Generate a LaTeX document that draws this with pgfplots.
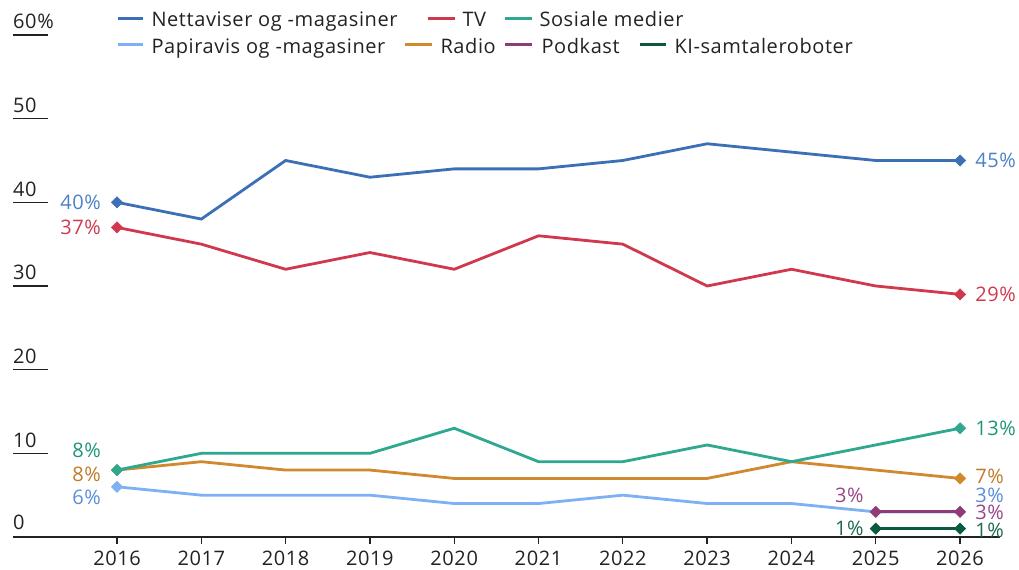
\documentclass[border=0pt]{standalone}
\usepackage{pgfplots}
\pgfplotsset{compat=1.18}
\usepackage{fontspec}
\setmainfont{Open Sans}[LetterSpace=3]
\definecolor{netta}{HTML}{3B6FB6}
\definecolor{tv}{HTML}{D0384E}
\definecolor{sos}{HTML}{2EA88E}
\definecolor{papir}{HTML}{7EB0F4}
\definecolor{radio}{HTML}{D0892F}
\definecolor{pod}{HTML}{8E3B78}
\definecolor{ki}{HTML}{0B5A3E}
\definecolor{nettaL}{HTML}{4C80C8}
\definecolor{papirL}{HTML}{5B8DD8}
\definecolor{sosL}{HTML}{1F9578}
\definecolor{radioL}{HTML}{C07B28}
\definecolor{podL}{HTML}{9A4686}
\definecolor{kiL}{HTML}{1D6A4E}
\definecolor{ink}{HTML}{222222}
\begin{document}
\fontsize{20bp}{24bp}\selectfont
\begin{tikzpicture}[x=1bp,y=1bp]
\useasboundingbox (-13,-33) rectangle (1006,537);
\begin{axis}[
  at={(0,0)}, anchor=south west,
  scale only axis, width=987bp, height=502bp,
  xmin=2014.766, xmax=2026.474, ymin=0, ymax=60,
  clip=false,
  axis x line*=bottom, axis y line=none,
  x axis line style={ink, line width=1.6bp},
  xtick={2016,2017,...,2026},
  tick align=outside, major tick length=7bp,
  xtick style={ink, line width=1.3bp},
  xticklabel style={text=ink, /pgf/number format/1000 sep={}, /pgf/number format/assume math mode=true, yshift=0bp},
  ytick=\empty,
  every axis plot/.append style={line width=2.8bp, mark=square*, mark options={solid, rotate=45, line width=0.5bp, scale=1}, mark size=4bp},
]
\addplot[netta, mark indices={1,11}] coordinates {(2016,40)(2017,38)(2018,45)(2019,43)(2020,44)(2021,44)(2022,45)(2023,47)(2024,46)(2025,45)(2026,45)};
\addplot[tv, mark indices={1,11}] coordinates {(2016,37)(2017,35)(2018,32)(2019,34)(2020,32)(2021,36)(2022,35)(2023,30)(2024,32)(2025,30)(2026,29)};
\addplot[papir, mark indices={1}] coordinates {(2016,6)(2017,5)(2018,5)(2019,5)(2020,4)(2021,4)(2022,5)(2023,4)(2024,4)(2025,3)(2026,3)};
\addplot[radio, mark indices={1,11}] coordinates {(2016,8)(2017,9)(2018,8)(2019,8)(2020,7)(2021,7)(2022,7)(2023,7)(2024,9)(2025,8)(2026,7)};
\addplot[sos, mark indices={1,11}] coordinates {(2016,8)(2017,10)(2018,10)(2019,10)(2020,13)(2021,9)(2022,9)(2023,11)(2024,9)(2025,11)(2026,13)};
\addplot[pod] coordinates {(2025,3)(2026,3)};
\addplot[ki] coordinates {(2025,1)(2026,1)};
% labels left
\node[anchor=east, inner sep=0, xshift=-16bp, text=nettaL] at (axis cs:2016,40) {40\%};
\node[anchor=east, inner sep=0, xshift=-16bp, text=tv] at (axis cs:2016,37) {37\%};
\node[anchor=east, inner sep=0, xshift=-16bp, yshift=20bp, text=sosL] at (axis cs:2016,8) {8\%};
\node[anchor=east, inner sep=0, xshift=-16bp, yshift=-4bp, text=radioL] at (axis cs:2016,8) {8\%};
\node[anchor=east, inner sep=0, xshift=-16bp, yshift=-11bp, text=papirL] at (axis cs:2016,6) {6\%};
% labels right
\node[anchor=west, inner sep=0, xshift=15bp, text=nettaL] at (axis cs:2026,45) {45\%};
\node[anchor=west, inner sep=0, xshift=15bp, text=tv] at (axis cs:2026,29) {29\%};
\node[anchor=west, inner sep=0, xshift=15bp, text=sosL] at (axis cs:2026,13) {13\%};
\node[anchor=west, inner sep=0, xshift=15bp, yshift=2bp, text=radioL] at (axis cs:2026,7) {7\%};
\node[anchor=west, inner sep=0, xshift=15bp, yshift=17bp, text=papirL] at (axis cs:2026,3) {3\%};
\node[anchor=west, inner sep=0, xshift=15bp, text=podL] at (axis cs:2026,3) {3\%};
\node[anchor=west, inner sep=0, xshift=15bp, yshift=-2bp, text=kiL] at (axis cs:2026,1) {1\%};
\node[anchor=east, inner sep=0, xshift=-12bp, yshift=17bp, text=podL] at (axis cs:2025,3) {3\%};
\node[anchor=east, inner sep=0, xshift=-12bp, text=kiL] at (axis cs:2025,1) {1\%};
\end{axis}
% y gridline stubs and labels
\foreach \v in {10,20,30,40,50,60} {
  \draw[ink, line width=1.5bp] (0,\v*8.36667) -- (35,\v*8.36667);
}
\foreach \v in {10,20,30,40,50} {
  \node[anchor=base west, inner sep=0, text=ink] at (0,\v*8.36667+6) {\v};
}
\node[anchor=base west, inner sep=0, text=ink] at (0,60*8.36667+6) {60\%};
\node[anchor=base west, inner sep=0, text=ink] at (0,7) {0};
% legend
\begin{scope}[line width=3bp]
\draw[netta] (105,518) -- (130,518);
\node[anchor=base west, inner sep=0, text=ink] at (137,510) {Nettaviser og -magasiner};
\draw[tv] (415,518) -- (442,518);
\node[anchor=base west, inner sep=0, text=ink] at (448,510) {TV};
\draw[sos] (492,518) -- (519,518);
\node[anchor=base west, inner sep=0, text=ink] at (525,510) {Sosiale medier};
\draw[papir] (105,492) -- (130,492);
\node[anchor=base west, inner sep=0, text=ink] at (137,483) {Papiravis og -magasiner};
\draw[radio] (392,492) -- (419,492);
\node[anchor=base west, inner sep=0, text=ink] at (426,483) {Radio};
\draw[pod] (492,492) -- (519,492);
\node[anchor=base west, inner sep=0, text=ink] at (527,483) {Podkast};
\draw[ki] (627,492) -- (653,492);
\node[anchor=base west, inner sep=0, text=ink] at (660,483) {KI-samtaleroboter};
\end{scope}
\end{tikzpicture}
\end{document}
